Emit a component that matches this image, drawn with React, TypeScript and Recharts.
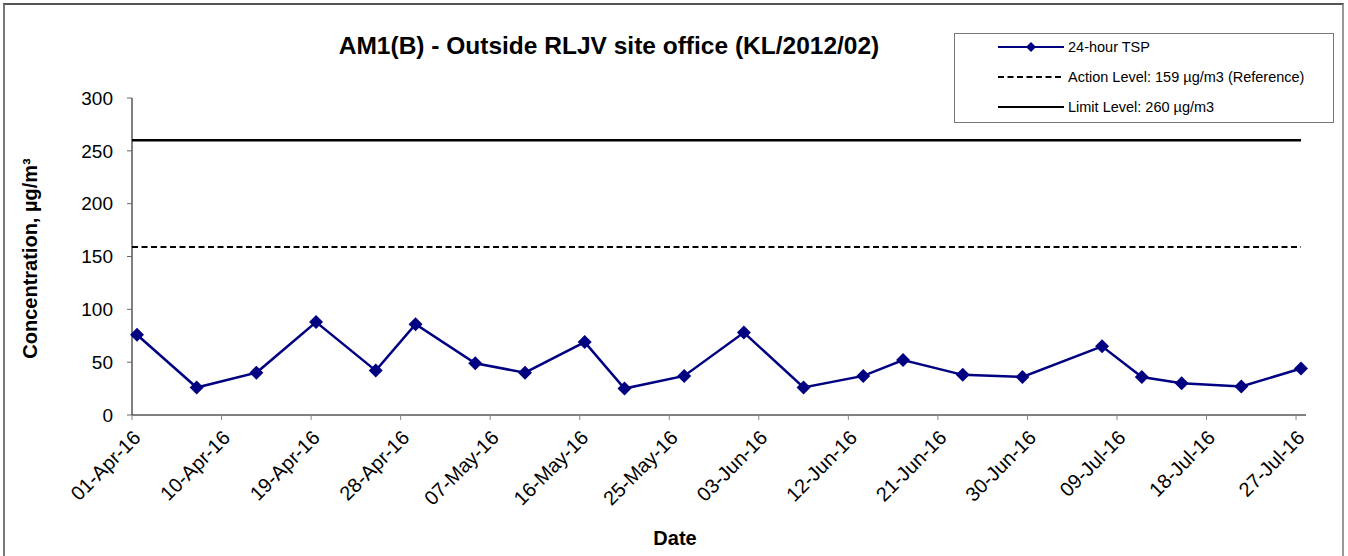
import { LineChart, Line, XAxis, YAxis, ReferenceLine, Label } from "recharts"

const DATES = [
  "01-Apr-16", "07-Apr-16", "13-Apr-16", "19-Apr-16", "25-Apr-16", "29-Apr-16",
  "05-May-16", "10-May-16", "16-May-16", "20-May-16", "26-May-16",
  "01-Jun-16", "07-Jun-16", "13-Jun-16", "17-Jun-16", "23-Jun-16", "29-Jun-16",
  "07-Jul-16", "11-Jul-16", "15-Jul-16", "21-Jul-16", "27-Jul-16",
]
const TSP = [76, 26, 40, 88, 42, 86, 49, 40, 69, 25, 37, 78, 26, 37, 52, 38, 36, 65, 36, 30, 27, 44]

const TICK_DATES = [
  "01-Apr-16", "10-Apr-16", "19-Apr-16", "28-Apr-16", "07-May-16", "16-May-16", "25-May-16",
  "03-Jun-16", "12-Jun-16", "21-Jun-16", "30-Jun-16", "09-Jul-16", "18-Jul-16", "27-Jul-16",
]
const Y_TICKS = [0, 50, 100, 150, 200, 250, 300]
const ACTION_LEVEL = 159
const LIMIT_LEVEL = 260

const TITLE = "AM1(B) - Outside RLJV site office (KL/2012/02)"
const FONT = "'Liberation Sans', Arial, sans-serif"
const NAVY = "#000080"

const MONTHS: Record<string, number> = {
  Jan: 0, Feb: 1, Mar: 2, Apr: 3, May: 4, Jun: 5, Jul: 6, Aug: 7, Sep: 8, Oct: 9, Nov: 10, Dec: 11,
}

// days since the first tick date
const toUtc = (s: string) => {
  const [d, m, y] = s.split("-")
  return Date.UTC(2000 + Number(y), MONTHS[m], Number(d))
}
const ORIGIN = toUtc(TICK_DATES[0])
const dayOf = (s: string) => (toUtc(s) - ORIGIN) / 86400000

// excel date axis puts each point in the middle of its day
const data = DATES.map((d, i) => ({ day: dayOf(d) + 0.5, date: d, tsp: TSP[i] }))
const ticks = TICK_DATES.map(dayOf)
const tickLabel: Record<number, string> = {}
TICK_DATES.forEach((d) => (tickLabel[dayOf(d)] = d))
const xMax = ticks[ticks.length - 1] + 1
const lastPoint = data[data.length - 1].day

const Diamond = (props: any) => {
  const { cx, cy, index } = props
  const r = 7
  return (
    <polygon
      key={`d-${index}`}
      points={`${cx},${cy - r} ${cx + r},${cy} ${cx},${cy + r} ${cx - r},${cy}`}
      fill={NAVY}
    />
  )
}

const DateTick = (props: any) => {
  const { x, y, payload } = props
  const px = x + 5
  const py = y + 12
  return (
    <text
      x={px}
      y={py}
      dy="0.35em"
      textAnchor="end"
      transform={`rotate(-45 ${px} ${py})`}
      fontSize={20}
      fontFamily={FONT}
      fill="#000"
    >
      {tickLabel[payload.value]}
    </text>
  )
}

const legendRows = [
  { label: "24-hour TSP", kind: "tsp" },
  { label: "Action Level: 159 µg/m3 (Reference)", kind: "action" },
  { label: "Limit Level: 260 µg/m3", kind: "limit" },
]

function LegendBox() {
  return (
    <div
      style={{
        position: "absolute",
        left: 954,
        top: 33,
        width: 380,
        height: 90,
        border: "1px solid #777",
        background: "#fff",
        boxSizing: "border-box",
        fontFamily: FONT,
        fontSize: 14.5,
      }}
    >
      {legendRows.map((r, i) => (
        <div
          key={r.label}
          style={{ position: "absolute", left: 43, top: 3 + i * 30, height: 20, display: "flex", alignItems: "center" }}
        >
          <svg width={66} height={20}>
            <line
              x1={0}
              x2={66}
              y1={10}
              y2={10}
              stroke={r.kind === "tsp" ? NAVY : "#000"}
              strokeWidth={2}
              strokeDasharray={r.kind === "action" ? "6 3.5" : undefined}
            />
            {r.kind === "tsp" && <polygon points="33,5 38,10 33,15 28,10" fill={NAVY} />}
          </svg>
          <span style={{ marginLeft: 4, whiteSpace: "nowrap" }}>{r.label}</span>
        </div>
      ))}
    </div>
  )
}

export default function App() {
  return (
    <div style={{ position: "absolute", left: 0, top: 0, width: 1348, height: 556, background: "#fff", overflow: "hidden" }}>
      <div
        style={{
          position: "absolute",
          left: 3,
          top: 3,
          width: 1341,
          height: 600,
          borderTop: "2px solid #555",
          borderLeft: "2px solid #777",
          borderRight: "2px solid #999",
          boxSizing: "border-box",
        }}
      />
      <div
        style={{
          position: "absolute",
          left: 0,
          top: 31,
          width: 1218,
          textAlign: "center",
          fontFamily: FONT,
          fontWeight: "bold",
          fontSize: 24.5,
          lineHeight: "30px",
        }}
      >
        {TITLE}
      </div>
      <div style={{ position: "absolute", left: 0, top: 0 }}>
        <LineChart width={1348} height={556} data={data} margin={{ top: 98, right: 42, bottom: 41, left: 72 }}>
          <XAxis
            dataKey="day"
            type="number"
            domain={[0, xMax]}
            ticks={ticks}
            interval={0}
            height={100}
            stroke="#000"
            tickLine={{ stroke: "#888" }}
            tickSize={5}
            tickMargin={2}
            tick={<DateTick />}
          >
            <Label
              content={(p: any) => (
                <text
                  x={p.viewBox.x + p.viewBox.width / 2 - 44}
                  y={p.viewBox.y + 123}
                  dy="0.35em"
                  textAnchor="middle"
                  fontFamily={FONT}
                  fontWeight="bold"
                  fontSize={20}
                  fill="#000"
                >
                  Date
                </text>
              )}
            />
          </XAxis>
          <YAxis
            type="number"
            domain={[0, 300]}
            ticks={Y_TICKS}
            width={60}
            stroke="#000"
            tickLine={{ stroke: "#666" }}
            tickSize={5}
            tickMargin={14}
            tick={{ fill: "#000", fontSize: 19, fontFamily: FONT }}
          >
            <Label
              content={(p: any) => {
                const cx = p.viewBox.x - 42
                const cy = p.viewBox.y + p.viewBox.height / 2 + 2
                return (
                  <text
                    x={cx}
                    y={cy}
                    dy="0.35em"
                    textAnchor="middle"
                    transform={`rotate(-90 ${cx} ${cy})`}
                    fontFamily={FONT}
                    fontWeight="bold"
                    fontSize={20}
                    fill="#000"
                  >
                    Concentration, µg/m³
                  </text>
                )
              }}
            />
          </YAxis>
          <ReferenceLine
            segment={[{ x: 0, y: LIMIT_LEVEL }, { x: lastPoint, y: LIMIT_LEVEL }]}
            stroke="#000"
            strokeWidth={2.5}
          />
          <ReferenceLine
            segment={[{ x: 0, y: ACTION_LEVEL }, { x: lastPoint, y: ACTION_LEVEL }]}
            stroke="#000"
            strokeWidth={2}
            strokeDasharray="6 3.5"
          />
          <Line
            dataKey="tsp"
            stroke={NAVY}
            strokeWidth={2.5}
            dot={<Diamond />}
            activeDot={false}
            isAnimationActive={false}
          />
        </LineChart>
      </div>
      <LegendBox />
    </div>
  )
}
